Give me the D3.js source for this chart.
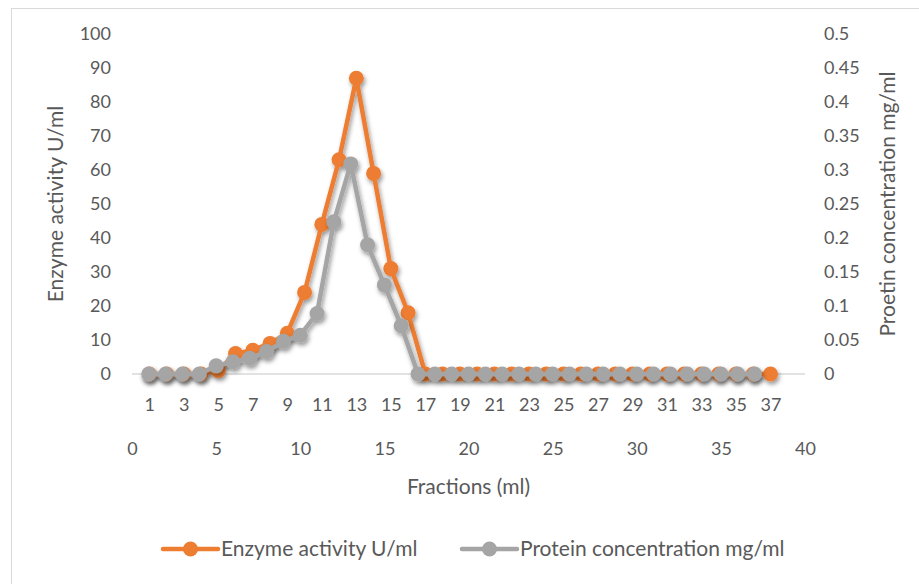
<!DOCTYPE html>
<html>
<head>
<meta charset="utf-8">
<script src="https://cdn.jsdelivr.net/npm/d3@7"></script>
<style>
  body { margin: 0; background: #fff; }
  text { font-family: Lato, "Open Sans", sans-serif; fill: #595959; }
</style>
</head>
<body>
<div id="plot"></div>
<script>
//Data;
const fractions = [1,2,3,4,5,6,7,8,9,10,11,12,13,14,15,16,17,18,19,20,21,22,23,24,25,26,27,28,29,30,31,32,33,34,35,36,37];
const enzymeActivity = [0,0,0,0,1,6,7,9,12,24,44,63,87,59,31,18,0,0,0,0,0,0,0,0,0,0,0,0,0,0,0,0,0,0,0,0,0];
const proteinConc = [0,0,0,0,0.012,0.018,0.023,0.033,0.048,0.057,0.089,0.224,0.309,0.19,0.131,0.071,0,0,0,0,0,0,0,0,0,0,0,0,0,0,0,0,0,0,0,0,0];

//Tick labels;
const leftTicks = [0,10,20,30,40,50,60,70,80,90,100];
const rightTicks = [0,0.05,0.1,0.15,0.2,0.25,0.3,0.35,0.4,0.45,0.5];
const categoryTicks = [1,3,5,7,9,11,13,15,17,19,21,23,25,27,29,31,33,35,37];
const fractionTicks = [0,5,10,15,20,25,30,35,40];

//Set Height and Width Vars;
const w = 919;
const h = 584;
const plot = {left: 132, right: 805, top: 34, bottom: 374};
const tickSize = 18;
const titleSize = 21;

//Define colors;
const orange = "#ED7D31";
const gray = "#A5A5A5";

//Initialize SVG;
const svg = d3.select("#plot")
  .append("svg")
    .attr("width", w)
    .attr("height", h);

//Shadow filter;
svg.append("defs")
  .append("filter")
    .attr("id", "shadow")
    .attr("x", "-20%").attr("y", "-20%")
    .attr("width", "140%").attr("height", "140%")
  .append("feDropShadow")
    .attr("dx", 1.5)
    .attr("dy", 3)
    .attr("stdDeviation", 2)
    .attr("flood-color", "#000")
    .attr("flood-opacity", 0.4);

//Chart border;
svg.append("rect")
  .attr("x", 11.5)
  .attr("y", 8.5)
  .attr("width", 920)
  .attr("height", 590)
  .attr("fill", "none")
  .attr("stroke", "#d9d9d9");

//Scales;
const xCat = d3.scaleLinear().domain([0, 39]).range([plot.left, plot.right]);
const xFrac = d3.scaleLinear().domain([0, 40]).range([plot.left, plot.right]);
const yLeft = d3.scaleLinear().domain([0, 100]).range([plot.bottom, plot.top]);
const yRight = d3.scaleLinear().domain([0, 0.5]).range([plot.bottom, plot.top]);

//Zero line;
svg.append("line")
  .attr("x1", plot.left)
  .attr("x2", plot.right)
  .attr("y1", yLeft(0))
  .attr("y2", yLeft(0))
  .attr("stroke", "#d9d9d9")
  .attr("stroke-width", 1.5);

//Axes;
function styleAxis(g) {
  g.select(".domain").remove();
  g.selectAll("line").remove();
  g.selectAll("text")
    .attr("font-size", tickSize)
    .attr("fill", "#595959");
}

svg.append("g")
  .attr("transform", "translate(" + plot.left + ",0)")
  .call(d3.axisLeft(yLeft).tickValues(leftTicks).tickSize(0).tickPadding(21).tickFormat(d3.format("d")))
  .call(styleAxis);

svg.append("g")
  .attr("transform", "translate(" + plot.right + ",0)")
  .call(d3.axisRight(yRight).tickValues(rightTicks).tickSize(0).tickPadding(19).tickFormat(d => +d.toFixed(2) + ""))
  .call(styleAxis);

svg.append("g")
  .attr("transform", "translate(0," + plot.bottom + ")")
  .call(d3.axisBottom(xCat).tickValues(categoryTicks).tickSize(0).tickPadding(24).tickFormat(d3.format("d")))
  .call(styleAxis);

svg.append("g")
  .attr("transform", "translate(0," + plot.bottom + ")")
  .call(d3.axisBottom(xFrac).tickValues(fractionTicks).tickSize(0).tickPadding(68).tickFormat(d3.format("d")))
  .call(styleAxis);

//Axis titles;
svg.append("text")
  .attr("transform", "translate(63," + ((plot.top + plot.bottom) / 2) + ") rotate(-90)")
  .attr("text-anchor", "middle")
  .attr("font-size", titleSize)
  .text("Enzyme activity U/ml");

svg.append("text")
  .attr("transform", "translate(895," + ((plot.top + plot.bottom) / 2) + ") rotate(-90)")
  .attr("text-anchor", "middle")
  .attr("font-size", titleSize)
  .text("Proetin concentration mg/ml");

svg.append("text")
  .attr("x", (plot.left + plot.right) / 2)
  .attr("y", 494)
  .attr("text-anchor", "middle")
  .attr("font-size", titleSize)
  .text("Fractions (ml)");

//Series;
const enzymeData = fractions.map((f, i) => ({x: f, y: enzymeActivity[i]}));
const proteinData = fractions.map((f, i) => ({x: f, y: proteinConc[i]}));

function drawSeries(data, xs, ys, color) {
  const g = svg.append("g").attr("filter", "url(#shadow)");
  g.append("path")
    .datum(data)
    .attr("fill", "none")
    .attr("stroke", color)
    .attr("stroke-width", 4.5)
    .attr("stroke-linejoin", "round")
    .attr("d", d3.line().x(d => xs(d.x)).y(d => ys(d.y)));
  g.selectAll("circle")
    .data(data)
    .enter()
    .append("circle")
      .attr("cx", d => xs(d.x))
      .attr("cy", d => ys(d.y))
      .attr("r", 7.5)
      .attr("fill", color);
}

drawSeries(enzymeData, xCat, yLeft, orange);
drawSeries(proteinData, xFrac, yRight, gray);

//Legend;
const legend = [
  {label: "Enzyme activity U/ml", color: orange, x: 163},
  {label: "Protein concentration mg/ml", color: gray, x: 462}
];
const ly = 549;
const lg = svg.selectAll(".legend")
  .data(legend)
  .enter()
  .append("g")
    .attr("class", "legend")
    .attr("transform", d => "translate(" + d.x + "," + ly + ")");
lg.append("line")
  .attr("x1", 0).attr("x2", 55)
  .attr("stroke", d => d.color)
  .attr("stroke-width", 4.5)
  .attr("stroke-linecap", "round");
lg.append("circle")
  .attr("cx", 27.5)
  .attr("r", 7.5)
  .attr("fill", d => d.color);
lg.append("text")
  .attr("x", 58)
  .attr("y", 7)
  .attr("font-size", titleSize)
  .text(d => d.label);
</script>
</body>
</html>
